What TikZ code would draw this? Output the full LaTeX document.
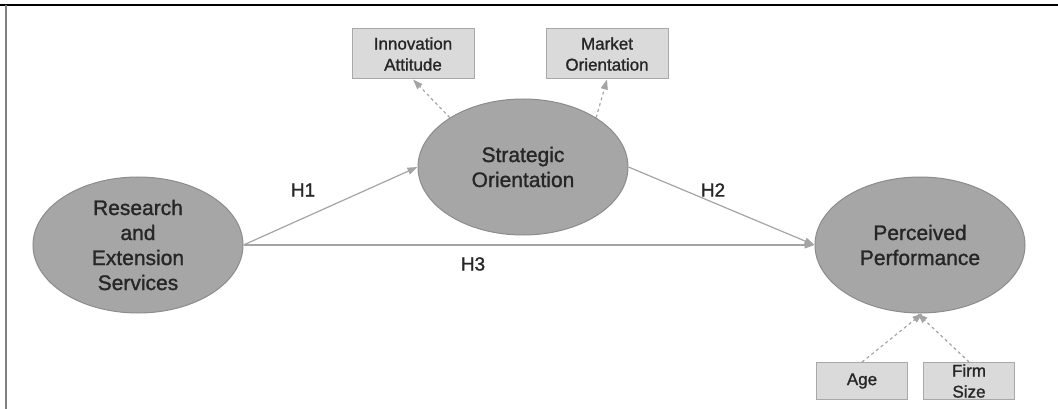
\documentclass[tikz,border=0pt]{standalone}
\usepackage{fontspec}
\setmainfont{Liberation Sans}
\newfontfamily\heavyfont{Liberation Sans}[FakeBold=1.2]
\usepackage{xcolor}
\usetikzlibrary{arrows.meta, positioning, shapes.geometric}

\definecolor{latentfill}{HTML}{A6A6A6}
\definecolor{latentline}{HTML}{8C8C8C}
\definecolor{boxfill}{HTML}{DADADA}
\definecolor{boxline}{HTML}{A8A8A8}
\definecolor{pathline}{HTML}{A4A4A4}
\definecolor{textgray}{HTML}{262626}

\begin{document}
\begin{tikzpicture}[
        x=1pt, y=-1pt,
        latent/.style={
            ellipse,
            draw=latentline,
            fill=latentfill,
            line width=1pt,
            minimum width=210pt,
            minimum height=136pt,
            inner sep=0pt,
            align=center,
            text=textgray,
            font=\heavyfont\fontsize{21}{25}\selectfont
        },
        indicator/.style={
            rectangle,
            draw=boxline,
            fill=boxfill,
            line width=1pt,
            minimum width=122pt,
            minimum height=50pt,
            inner sep=0pt,
            align=center,
            text=textgray,
            font=\heavyfont\fontsize{17}{21}\selectfont
        },
        control/.style={
            indicator,
            minimum width=91pt,
            minimum height=37pt
        },
        hyp/.style={text=textgray, font=\heavyfont\fontsize{19}{22}\selectfont},
        path/.style={draw=pathline, line width=1.2pt,
            -{Triangle[length=10pt, width=7pt, fill=pathline]}},
        loading/.style={path, dashed}
    ]

    \useasboundingbox (0,0) rectangle (1058,409);

    % Frame
    \draw[black, line width=1.6pt] (0,5) -- (1058,5);
    \draw[gray, line width=2pt] (6,5) -- (6,409);

    % Latent constructs
    \node[latent] (res) at (138,245) {Research\\and\\Extension\\Services};
    \node[latent] (strat) at (523,167) {Strategic\\Orientation};
    \node[latent] (perf) at (920,245) {Perceived\\Performance};

    % Indicators and controls
    \node[indicator] (innov) at (413,54) {Innovation\\Attitude};
    \node[indicator, right=71pt of innov] (market) {Market\\Orientation};
    \node[control] (age) at (862,381) {Age};
    \node[control, right=15pt of age] (firm) {Firm\\Size};

    % Hypothesised paths
    \draw[path] (res.east) -- (strat.west);
    \draw[path] (strat.east) -- (perf.west);
    \draw[path] (res.east) -- (perf.west);

    \node[hyp] (h1) at (303,190) {H1};
    \node[hyp] (h2) at (713,190) {H2};
    \node[hyp] (h3) at (473,264) {H3};

    % Dimensions and controls
    \draw[loading] (strat.146) -- (innov.south);
    \draw[loading] (strat.34) -- (market.south);
    \draw[loading] (age.north) -- (perf.272);
    \draw[loading] (firm.north) -- (perf.268);

\end{tikzpicture}
\end{document}
